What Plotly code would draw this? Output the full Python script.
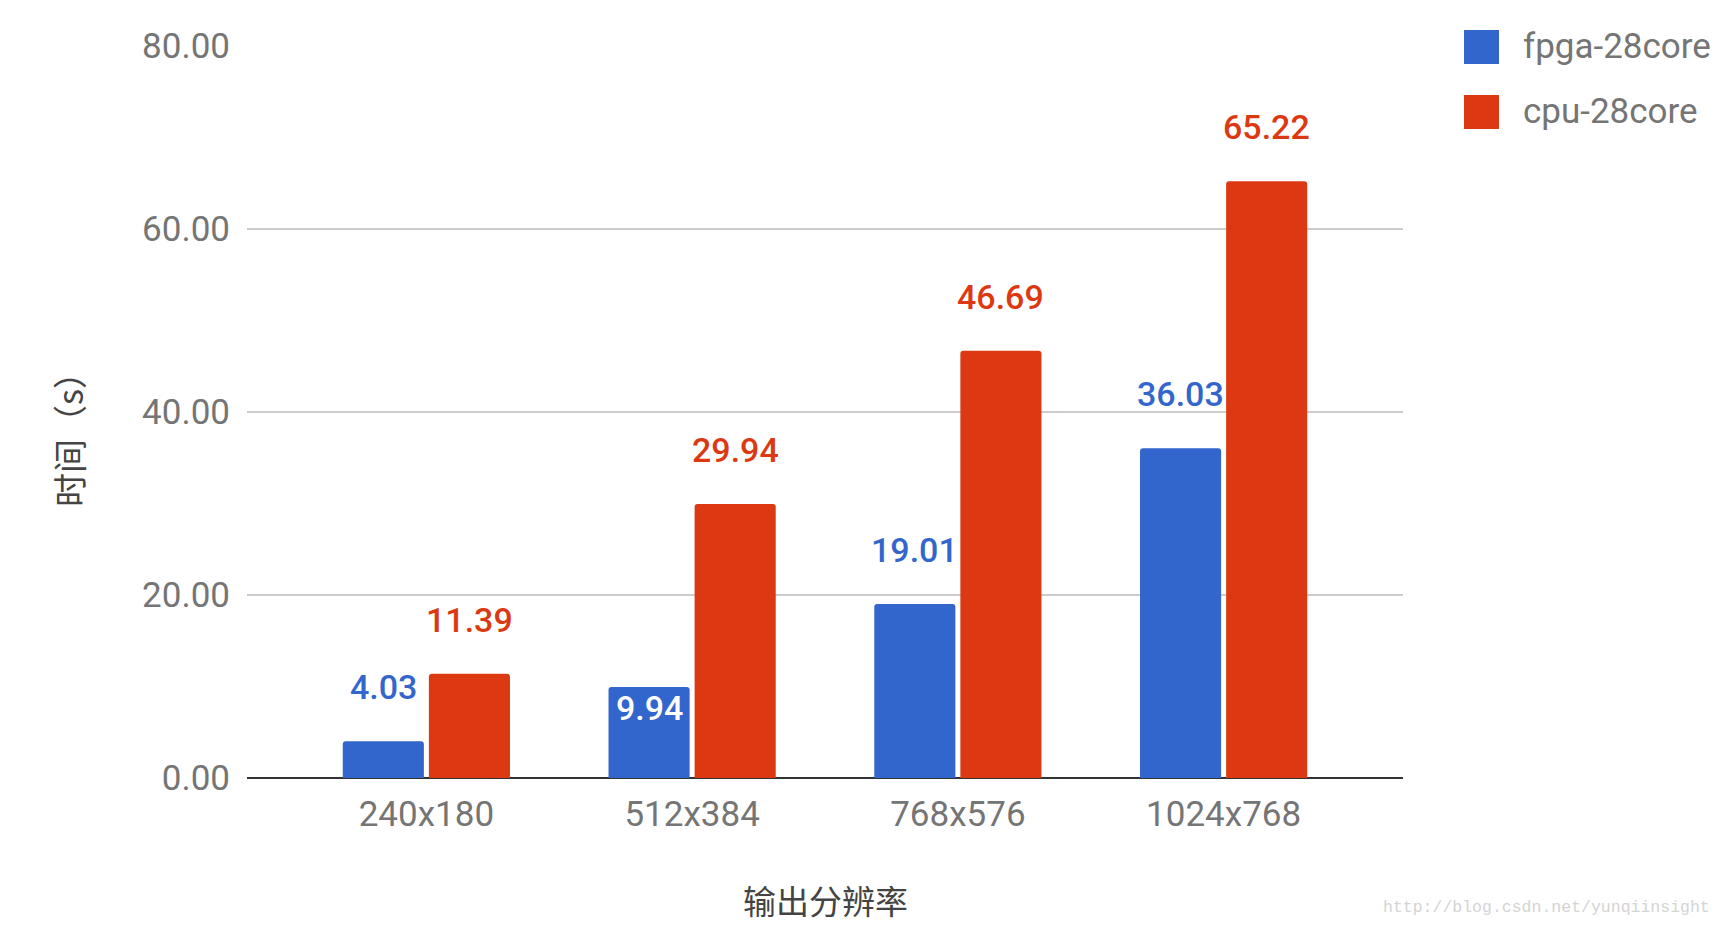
import plotly.graph_objects as go

# ---- data ----
categories = ["240x180", "512x384", "768x576", "1024x768"]
fpga_values = [4.03, 9.94, 19.01, 36.03]
cpu_values = [11.39, 29.94, 46.69, 65.22]
series_names = ["fpga-28core", "cpu-28core"]
y_tick_values = [0, 20, 40, 60, 80]
y_tick_labels = ["0.00", "20.00", "40.00", "60.00", "80.00"]
x_title = "输出分辨率"
y_title = "时间（s）"
watermark = "http://blog.csdn.net/yunqiinsight"

# ---- style ----
BLUE = "#3366cc"
RED = "#dc3912"
GRAY = "#757575"
DARK = "#444444"
FONT = "Roboto, 'Noto Sans CJK SC', sans-serif"
CJK = "'Noto Sans CJK SC', Roboto, sans-serif"
HALO = "2px 0 1px #fff, -2px 0 1px #fff, 0 2px 1px #fff, 0 -2px 1px #fff"

W, H = 1724, 926
L, R, T, B = 247, 321, 46, 148
PW, PH = W - L - R, H - T - B


def pxx(x):
    return (x - L) / PW


def pxy(y):
    return (H - B - y) / PH


fig = go.Figure()
colors = [BLUE, RED]
for name, vals, col in zip(series_names, [fpga_values, cpu_values], colors):
    fig.add_bar(x=categories, y=vals, name=name, marker_color=col,
                marker_line_width=0, showlegend=False, hoverinfo="x+y+name")

annotations = []
# data labels
label_inside = [[False, True, False, False], [False, False, False, False]]
shifts = [-43, 43]
for s, (vals, col) in enumerate(zip([fpga_values, cpu_values], colors)):
    for i, (cat, v) in enumerate(zip(categories, vals)):
        inside = label_inside[s][i]
        annotations.append(dict(
            x=cat, y=v, xref="x", yref="y", text=f"{v:.2f}", showarrow=False,
            xshift=shifts[s], yshift=-21 if inside else 54,
            xanchor="center", yanchor="middle",
            font=dict(family=FONT, size=34, color="#ffffff" if inside else col,
                      weight=500, shadow="none" if inside else HALO)))

# axis titles
annotations.append(dict(x=0.5, y=pxy(900), xref="paper", yref="paper", text=x_title,
                        showarrow=False, xanchor="center", yanchor="middle",
                        font=dict(family=CJK, size=33, color=DARK)))
annotations.append(dict(x=pxx(68), y=pxy(431), xref="paper", yref="paper", text=y_title,
                        showarrow=False, textangle=-90, xanchor="center", yanchor="middle",
                        font=dict(family=CJK, size=34, color=DARK)))

# legend (custom, large swatches)
shapes = []
leg_y = [47, 112]
for name, col, cy in zip(series_names, colors, leg_y):
    shapes.append(dict(type="rect", xref="paper", yref="paper",
                       x0=pxx(1464), x1=pxx(1499), y0=pxy(cy - 17), y1=pxy(cy + 17),
                       fillcolor=col, line=dict(width=0)))
    annotations.append(dict(x=pxx(1521), y=pxy(cy), xref="paper", yref="paper", text=name,
                            showarrow=False, xanchor="left", yanchor="middle",
                            font=dict(family=FONT, size=35, color=GRAY)))

# watermark
annotations.append(dict(x=pxx(1712), y=pxy(907), xref="paper", yref="paper", text=watermark,
                        showarrow=False, xanchor="right", yanchor="middle",
                        font=dict(family="'Liberation Mono', monospace", size=16.5, color="#d4d4d4")))

fig.update_layout(
    width=W, height=H,
    margin=dict(l=L, r=R, t=T, b=B, pad=0),
    paper_bgcolor="#ffffff", plot_bgcolor="#ffffff",
    barmode="group", bargap=0.352, bargroupgap=0.058, barcornerradius=3,
    font=dict(family=FONT, color=GRAY),
    annotations=annotations, shapes=shapes,
    showlegend=False,
)
fig.update_xaxes(range=[-0.675, 3.675], showgrid=False, zeroline=False, showline=False,
                 ticks="", tickfont=dict(family=FONT, size=35, color=GRAY),
                 ticklabelstandoff=12, fixedrange=True)
fig.update_yaxes(range=[0, 80], tickvals=y_tick_values, ticktext=y_tick_labels,
                 showgrid=True, gridcolor="#cccccc", gridwidth=2,
                 zeroline=True, zerolinecolor="#333333", zerolinewidth=2,
                 showline=False, ticks="", tickfont=dict(family=FONT, size=35, color=GRAY),
                 ticklabelstandoff=16, fixedrange=True)

fig.write_html("out.html", config={"displayModeBar": False},
               post_script="document.body.style.margin='0';document.body.style.overflow='hidden';")
